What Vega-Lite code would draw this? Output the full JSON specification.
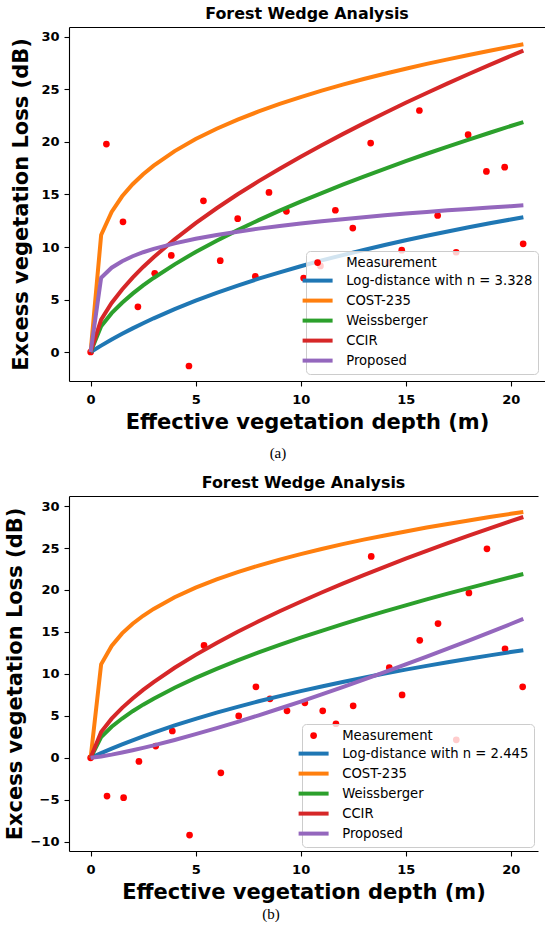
{
  "$schema": "https://vega.github.io/schema/vega-lite/v6.json",
  "background": "white",
  "padding": {"left": 4, "top": 6, "right": 0, "bottom": 0},
  "spacing": 14,
  "config": {
    "font": "DejaVu Sans",
    "view": {"stroke": null},
    "axis": {"labelFont": "DejaVu Sans", "labelFontSize": 13, "labelFontWeight": "bold", "labelColor": "#000", "titleFont": "DejaVu Sans", "titleFontSize": 21, "titleFontWeight": "bold", "titleColor": "#000", "domainColor": "#000", "domainWidth": 1.1, "tickColor": "#000", "tickWidth": 1.1, "tickSize": 5, "grid": false, "labelPadding": 5, "labelFlush": false, "labelOverlap": false},
    "axisX": {"titlePadding": 5, "labelPadding": 7},
    "axisY": {"titlePadding": 9},
    "title": {"font": "DejaVu Sans", "fontWeight": "bold", "fontSize": 15.9, "color": "#000"},
    "legend": {"labelFont": "DejaVu Sans", "labelFontSize": 13.2, "labelColor": "#000", "labelLimit": 400, "symbolType": "stroke", "symbolSize": 900, "symbolStrokeWidth": 4, "labelOffset": 22, "padding": 5, "rowPadding": 3, "fillColor": "rgba(255,255,255,0.8)", "strokeColor": "#cccccc", "cornerRadius": 4}
  },
  "datasets": {
    "meas_a": [
      {"d": 0, "loss": 0}, {"d": 0.75, "loss": 19.8}, {"d": 1.54, "loss": 12.4}, {"d": 2.25, "loss": 4.3}, {"d": 3.05, "loss": 7.5}, {"d": 3.84, "loss": 9.2}, {"d": 4.68, "loss": -1.33}, {"d": 5.37, "loss": 14.4}, {"d": 6.17, "loss": 8.7}, {"d": 7.0, "loss": 12.7}, {"d": 7.84, "loss": 7.2}, {"d": 8.49, "loss": 15.2}, {"d": 9.32, "loss": 13.4}, {"d": 10.14, "loss": 7.05}, {"d": 10.94, "loss": 8.2}, {"d": 11.65, "loss": 13.5}, {"d": 12.48, "loss": 11.8}, {"d": 13.33, "loss": 19.9}, {"d": 14.19, "loss": 8.5}, {"d": 14.81, "loss": 9.7}, {"d": 15.65, "loss": 23.0}, {"d": 16.52, "loss": 13.0}, {"d": 17.4, "loss": 9.5}, {"d": 17.97, "loss": 20.7}, {"d": 18.84, "loss": 17.2}, {"d": 19.71, "loss": 17.6}, {"d": 20.59, "loss": 10.3}
    ],
    "meas_b": [
      {"d": 0, "loss": 0}, {"d": 0.78, "loss": -4.56}, {"d": 1.57, "loss": -4.75}, {"d": 2.3, "loss": -0.43}, {"d": 3.1, "loss": 1.4}, {"d": 3.89, "loss": 3.2}, {"d": 4.71, "loss": -9.2}, {"d": 5.4, "loss": 13.4}, {"d": 6.2, "loss": -1.78}, {"d": 7.05, "loss": 5.0}, {"d": 7.87, "loss": 8.46}, {"d": 8.54, "loss": 7.03}, {"d": 9.35, "loss": 5.6}, {"d": 10.2, "loss": 6.55}, {"d": 11.05, "loss": 5.6}, {"d": 11.68, "loss": 4.06}, {"d": 12.5, "loss": 6.2}, {"d": 13.36, "loss": 24.0}, {"d": 14.22, "loss": 10.75}, {"d": 14.83, "loss": 7.5}, {"d": 15.67, "loss": 14.0}, {"d": 16.54, "loss": 16.0}, {"d": 17.41, "loss": 2.15}, {"d": 18.01, "loss": 19.65}, {"d": 18.87, "loss": 24.9}, {"d": 19.73, "loss": 13.0}, {"d": 20.57, "loss": 8.46}
    ],
    "curves_a": [
      {"d": 0, "LogDist": 0, "COST-235": 0, "Weissberger": 0, "CCIR": 0, "Proposed": 0},
      {"d": 0.5, "LogDist": 0.61, "COST-235": 11.14, "Weissberger": 2.46, "CCIR": 3.08, "Proposed": 7.07},
      {"d": 1, "LogDist": 1.19, "COST-235": 13.34, "Weissberger": 3.70, "CCIR": 4.67, "Proposed": 8.03},
      {"d": 1.5, "LogDist": 1.73, "COST-235": 14.83, "Weissberger": 4.69, "CCIR": 5.96, "Proposed": 8.65},
      {"d": 2, "LogDist": 2.25, "COST-235": 15.98, "Weissberger": 5.56, "CCIR": 7.08, "Proposed": 9.12},
      {"d": 2.5, "LogDist": 2.74, "COST-235": 16.93, "Weissberger": 6.34, "CCIR": 8.10, "Proposed": 9.50},
      {"d": 3, "LogDist": 3.21, "COST-235": 17.75, "Weissberger": 7.05, "CCIR": 9.03, "Proposed": 9.82},
      {"d": 4, "LogDist": 4.09, "COST-235": 19.13, "Weissberger": 8.35, "CCIR": 10.73, "Proposed": 10.35},
      {"d": 5, "LogDist": 4.89, "COST-235": 20.28, "Weissberger": 9.53, "CCIR": 12.27, "Proposed": 10.78},
      {"d": 6, "LogDist": 5.64, "COST-235": 21.26, "Weissberger": 10.60, "CCIR": 13.69, "Proposed": 11.15},
      {"d": 7, "LogDist": 6.33, "COST-235": 22.13, "Weissberger": 11.61, "CCIR": 15.02, "Proposed": 11.46},
      {"d": 8, "LogDist": 6.98, "COST-235": 22.91, "Weissberger": 12.56, "CCIR": 16.27, "Proposed": 11.75},
      {"d": 9, "LogDist": 7.59, "COST-235": 23.62, "Weissberger": 13.46, "CCIR": 17.46, "Proposed": 12.00},
      {"d": 10, "LogDist": 8.17, "COST-235": 24.28, "Weissberger": 14.32, "CCIR": 18.60, "Proposed": 12.24},
      {"d": 11, "LogDist": 8.72, "COST-235": 24.89, "Weissberger": 15.14, "CCIR": 19.70, "Proposed": 12.45},
      {"d": 12, "LogDist": 9.23, "COST-235": 25.46, "Weissberger": 15.94, "CCIR": 20.75, "Proposed": 12.65},
      {"d": 13, "LogDist": 9.72, "COST-235": 26.00, "Weissberger": 16.71, "CCIR": 21.77, "Proposed": 12.84},
      {"d": 14, "LogDist": 10.19, "COST-235": 26.50, "Weissberger": 17.45, "CCIR": 22.76, "Proposed": 13.02},
      {"d": 15, "LogDist": 10.64, "COST-235": 26.98, "Weissberger": 18.17, "CCIR": 23.73, "Proposed": 13.18},
      {"d": 16, "LogDist": 11.07, "COST-235": 27.44, "Weissberger": 18.88, "CCIR": 24.66, "Proposed": 13.34},
      {"d": 17, "LogDist": 11.48, "COST-235": 27.87, "Weissberger": 19.56, "CCIR": 25.58, "Proposed": 13.49},
      {"d": 18, "LogDist": 11.88, "COST-235": 28.29, "Weissberger": 20.23, "CCIR": 26.47, "Proposed": 13.63},
      {"d": 19, "LogDist": 12.26, "COST-235": 28.69, "Weissberger": 20.88, "CCIR": 27.34, "Proposed": 13.76},
      {"d": 20, "LogDist": 12.62, "COST-235": 29.08, "Weissberger": 21.52, "CCIR": 28.20, "Proposed": 13.89},
      {"d": 20.6, "LogDist": 12.84, "COST-235": 29.30, "Weissberger": 21.90, "CCIR": 28.70, "Proposed": 13.97}
    ],
    "curves_b": [
      {"d": 0, "LogDist": 0, "COST-235": 0, "Weissberger": 0, "CCIR": 0, "Proposed": 0},
      {"d": 0.5, "LogDist": 0.56, "COST-235": 11.14, "Weissberger": 2.46, "CCIR": 3.08, "Proposed": 0.16},
      {"d": 1, "LogDist": 1.09, "COST-235": 13.34, "Weissberger": 3.70, "CCIR": 4.67, "Proposed": 0.38},
      {"d": 1.5, "LogDist": 1.60, "COST-235": 14.83, "Weissberger": 4.69, "CCIR": 5.96, "Proposed": 0.63},
      {"d": 2, "LogDist": 2.09, "COST-235": 15.98, "Weissberger": 5.56, "CCIR": 7.08, "Proposed": 0.90},
      {"d": 2.5, "LogDist": 2.56, "COST-235": 16.93, "Weissberger": 6.34, "CCIR": 8.10, "Proposed": 1.19},
      {"d": 3, "LogDist": 3.01, "COST-235": 17.75, "Weissberger": 7.05, "CCIR": 9.03, "Proposed": 1.49},
      {"d": 4, "LogDist": 3.86, "COST-235": 19.13, "Weissberger": 8.35, "CCIR": 10.73, "Proposed": 2.13},
      {"d": 5, "LogDist": 4.65, "COST-235": 20.28, "Weissberger": 9.53, "CCIR": 12.27, "Proposed": 2.82},
      {"d": 6, "LogDist": 5.39, "COST-235": 21.26, "Weissberger": 10.60, "CCIR": 13.69, "Proposed": 3.54},
      {"d": 7, "LogDist": 6.08, "COST-235": 22.13, "Weissberger": 11.61, "CCIR": 15.02, "Proposed": 4.29},
      {"d": 8, "LogDist": 6.74, "COST-235": 22.91, "Weissberger": 12.56, "CCIR": 16.27, "Proposed": 5.07},
      {"d": 9, "LogDist": 7.36, "COST-235": 23.62, "Weissberger": 13.46, "CCIR": 17.46, "Proposed": 5.88},
      {"d": 10, "LogDist": 7.95, "COST-235": 24.28, "Weissberger": 14.32, "CCIR": 18.60, "Proposed": 6.70},
      {"d": 11, "LogDist": 8.51, "COST-235": 24.89, "Weissberger": 15.14, "CCIR": 19.70, "Proposed": 7.55},
      {"d": 12, "LogDist": 9.04, "COST-235": 25.46, "Weissberger": 15.94, "CCIR": 20.75, "Proposed": 8.42},
      {"d": 13, "LogDist": 9.55, "COST-235": 26.00, "Weissberger": 16.71, "CCIR": 21.77, "Proposed": 9.31},
      {"d": 14, "LogDist": 10.04, "COST-235": 26.50, "Weissberger": 17.45, "CCIR": 22.76, "Proposed": 10.21},
      {"d": 15, "LogDist": 10.51, "COST-235": 26.98, "Weissberger": 18.17, "CCIR": 23.73, "Proposed": 11.13},
      {"d": 16, "LogDist": 10.96, "COST-235": 27.44, "Weissberger": 18.88, "CCIR": 24.66, "Proposed": 12.06},
      {"d": 17, "LogDist": 11.39, "COST-235": 27.87, "Weissberger": 19.56, "CCIR": 25.58, "Proposed": 13.01},
      {"d": 18, "LogDist": 11.80, "COST-235": 28.29, "Weissberger": 20.23, "CCIR": 26.47, "Proposed": 13.98},
      {"d": 19, "LogDist": 12.21, "COST-235": 28.69, "Weissberger": 20.88, "CCIR": 27.34, "Proposed": 14.95},
      {"d": 20, "LogDist": 12.60, "COST-235": 29.08, "Weissberger": 21.52, "CCIR": 28.20, "Proposed": 15.95},
      {"d": 20.6, "LogDist": 12.82, "COST-235": 29.30, "Weissberger": 21.90, "CCIR": 28.70, "Proposed": 16.55}
    ]
  },
  "vconcat": [
    {
      "title": {"text": "(a)", "orient": "bottom", "anchor": "middle", "font": "Liberation Serif", "fontWeight": "normal", "fontSize": 15, "offset": 14},
      "resolve": {"scale": {"color": "independent"}, "legend": {"color": "independent"}},
      "vconcat": [
        {
          "width": 476,
          "height": 354,
          "title": {"text": "Forest Wedge Analysis", "offset": 5, "anchor": "middle", "frame": "group"},
          "layer": [
            {
              "data": {"name": "meas_a"},
              "mark": {"type": "point", "filled": true, "size": 45, "opacity": 1},
              "encoding": {
                "x": {"field": "d", "type": "quantitative", "scale": {"domain": [-1.03, 21.63], "nice": false, "zero": false}, "axis": {"orient": "bottom", "values": [0, 5, 10, 15, 20], "title": "Effective vegetation depth (m)"}},
                "y": {"field": "loss", "type": "quantitative", "scale": {"domain": [-2.76, 30.95], "nice": false, "zero": false}, "axis": {"values": [0, 5, 10, 15, 20, 25, 30], "title": "Excess vegetation Loss (dB)"}},
                "color": {"datum": "Measurement", "type": "nominal",
                  "scale": {"domain": ["Measurement", "LogDist", "COST-235", "Weissberger", "CCIR", "Proposed"], "range": ["#ff0000", "#1f77b4", "#ff7f0e", "#2ca02c", "#d62728", "#9467bd"]},
                  "legend": {"orient": "bottom-right", "offset": 7, "title": null,
                    "labelExpr": "datum.label == 'LogDist' ? 'Log-distance with n = 3.328' : datum.label",
                    "encode": {"symbols": {"update": {
                      "shape": {"signal": "datum.value === 'Measurement' ? 'circle' : 'stroke'"},
                      "size": {"signal": "datum.value === 'Measurement' ? 45 : 900"},
                      "strokeWidth": {"signal": "datum.value === 'Measurement' ? 0 : 4"},
                      "fill": {"signal": "datum.value === 'Measurement' ? '#ff0000' : 'transparent'"},
                      "opacity": {"value": 1}
                    }}}}}
              }
            },
            {
              "data": {"name": "curves_a"},
              "transform": [{"fold": ["LogDist", "COST-235", "Weissberger", "CCIR", "Proposed"], "as": ["series", "loss"]}],
              "mark": {"type": "line", "strokeWidth": 4},
              "encoding": {
                "x": {"field": "d", "type": "quantitative", "axis": {"orient": "top", "labels": false, "ticks": false, "title": null, "domain": true}},
                "y": {"field": "loss", "type": "quantitative", "axis": {"values": [0, 5, 10, 15, 20, 25, 30], "title": "Excess vegetation Loss (dB)"}},
                "color": {"field": "series", "type": "nominal",
                  "scale": {"domain": ["Measurement", "LogDist", "COST-235", "Weissberger", "CCIR", "Proposed"], "range": ["#ff0000", "#1f77b4", "#ff7f0e", "#2ca02c", "#d62728", "#9467bd"]},
                  "legend": {"orient": "bottom-right", "offset": 7, "title": null,
                    "labelExpr": "datum.label == 'LogDist' ? 'Log-distance with n = 3.328' : datum.label",
                    "encode": {"symbols": {"update": {
                      "shape": {"signal": "datum.value === 'Measurement' ? 'circle' : 'stroke'"},
                      "size": {"signal": "datum.value === 'Measurement' ? 45 : 900"},
                      "strokeWidth": {"signal": "datum.value === 'Measurement' ? 0 : 4"},
                      "fill": {"signal": "datum.value === 'Measurement' ? '#ff0000' : 'transparent'"},
                      "opacity": {"value": 1}
                    }}}}}
              }
            }
          ]
        }
      ]
    },
    {
      "title": {"text": "(b)", "orient": "bottom", "anchor": "middle", "font": "Liberation Serif", "fontWeight": "normal", "fontSize": 15, "offset": 5},
      "resolve": {"scale": {"color": "independent"}, "legend": {"color": "independent"}},
      "vconcat": [
        {
          "width": 469,
          "height": 355,
          "title": {"text": "Forest Wedge Analysis", "offset": 5, "anchor": "middle", "frame": "group"},
          "layer": [
            {
              "data": {"name": "meas_b"},
              "mark": {"type": "point", "filled": true, "size": 45, "opacity": 1},
              "encoding": {
                "x": {"field": "d", "type": "quantitative", "scale": {"domain": [-1.03, 21.3], "nice": false, "zero": false}, "axis": {"orient": "bottom", "values": [0, 5, 10, 15, 20], "title": "Effective vegetation depth (m)"}},
                "y": {"field": "loss", "type": "quantitative", "scale": {"domain": [-11.1, 31.2], "nice": false, "zero": false}, "axis": {"values": [-10, -5, 0, 5, 10, 15, 20, 25, 30], "title": "Excess vegetation Loss (dB)", "titlePadding": 5}},
                "color": {"datum": "Measurement", "type": "nominal",
                  "scale": {"domain": ["Measurement", "LogDist", "COST-235", "Weissberger", "CCIR", "Proposed"], "range": ["#ff0000", "#1f77b4", "#ff7f0e", "#2ca02c", "#d62728", "#9467bd"]},
                  "legend": {"orient": "bottom-right", "offset": 4, "title": null,
                    "labelExpr": "datum.label == 'LogDist' ? 'Log-distance with n = 2.445' : datum.label",
                    "encode": {"symbols": {"update": {
                      "shape": {"signal": "datum.value === 'Measurement' ? 'circle' : 'stroke'"},
                      "size": {"signal": "datum.value === 'Measurement' ? 45 : 900"},
                      "strokeWidth": {"signal": "datum.value === 'Measurement' ? 0 : 4"},
                      "fill": {"signal": "datum.value === 'Measurement' ? '#ff0000' : 'transparent'"},
                      "opacity": {"value": 1}
                    }}}}}
              }
            },
            {
              "data": {"name": "curves_b"},
              "transform": [{"fold": ["LogDist", "COST-235", "Weissberger", "CCIR", "Proposed"], "as": ["series", "loss"]}],
              "mark": {"type": "line", "strokeWidth": 4},
              "encoding": {
                "x": {"field": "d", "type": "quantitative", "axis": {"orient": "top", "labels": false, "ticks": false, "title": null, "domain": true}},
                "y": {"field": "loss", "type": "quantitative", "axis": {"values": [-10, -5, 0, 5, 10, 15, 20, 25, 30], "title": "Excess vegetation Loss (dB)", "titlePadding": 5}},
                "color": {"field": "series", "type": "nominal",
                  "scale": {"domain": ["Measurement", "LogDist", "COST-235", "Weissberger", "CCIR", "Proposed"], "range": ["#ff0000", "#1f77b4", "#ff7f0e", "#2ca02c", "#d62728", "#9467bd"]},
                  "legend": {"orient": "bottom-right", "offset": 4, "title": null,
                    "labelExpr": "datum.label == 'LogDist' ? 'Log-distance with n = 2.445' : datum.label",
                    "encode": {"symbols": {"update": {
                      "shape": {"signal": "datum.value === 'Measurement' ? 'circle' : 'stroke'"},
                      "size": {"signal": "datum.value === 'Measurement' ? 45 : 900"},
                      "strokeWidth": {"signal": "datum.value === 'Measurement' ? 0 : 4"},
                      "fill": {"signal": "datum.value === 'Measurement' ? '#ff0000' : 'transparent'"},
                      "opacity": {"value": 1}
                    }}}}}
              }
            }
          ]
        }
      ]
    }
  ],
  "resolve": {"scale": {"color": "independent", "x": "independent", "y": "independent"}, "legend": {"color": "independent"}}
}
